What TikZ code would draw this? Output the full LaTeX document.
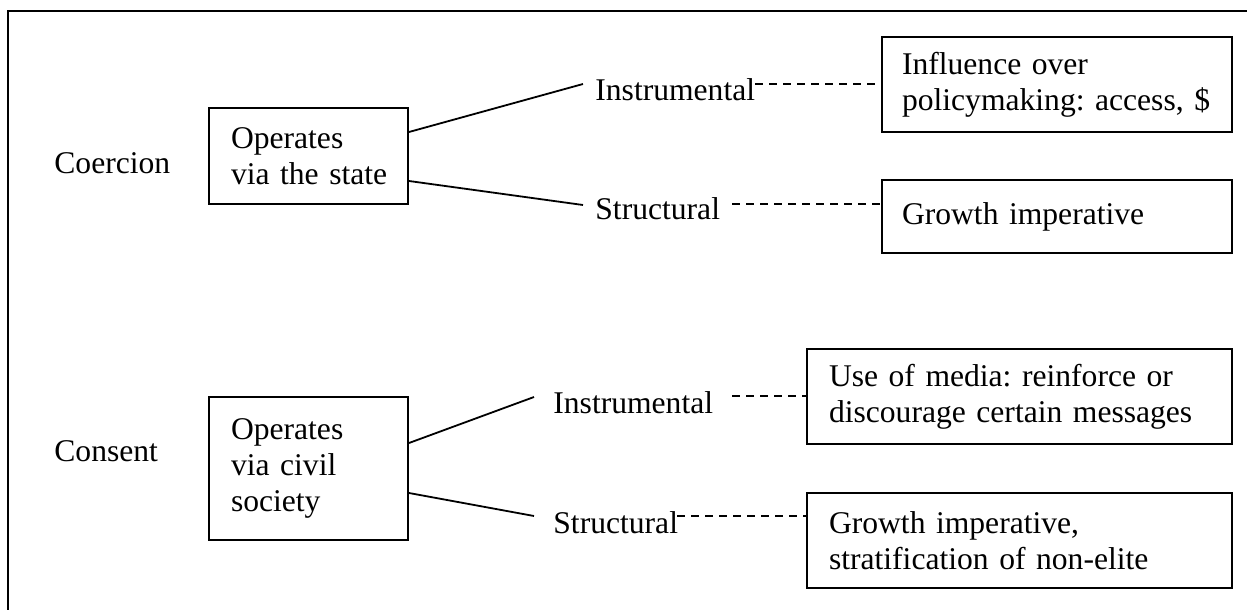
\documentclass[tikz,border=0pt]{standalone}
\usepackage{fontspec}
\setmainfont{Liberation Serif}
\begin{document}
\frenchspacing
\begin{tikzpicture}[x=0.5pt,y=-0.5pt,
  every node/.style={font=\fontsize{15.8}{18}\selectfont},
  box/.style={draw, line width=1pt, inner ysep=0pt, align=left},
  lbl/.style={inner sep=0pt, anchor=base west},
  conn/.style={line width=0.9pt},
  dashline/.style={line width=0.8pt, dash pattern=on 4pt off 3pt}]
\useasboundingbox (0,0) rectangle (1247,610);
% outer frame (cut at right and bottom)
\draw[line width=1pt] (8,610) -- (8,11) -- (1247,11);

% left labels
\node[lbl] (coer) at (54,173) {Coercion};
\node[lbl] (cons) at (54,461) {Consent};

% middle boxes
\node[box, text width=77.5pt, inner xsep=11pt, minimum height=48pt] (a) at (308.5,156) {\mbox{Operates}\\\mbox{via the state}};
\node[box, text width=77.5pt, inner xsep=11pt, minimum height=71.5pt] (b) at (308.5,468.5) {\mbox{Operates}\\\mbox{via civil}\\\mbox{society}};

% branch labels
\node[lbl] (i1) at (595,101) {Instrumental};
\node[lbl] (s1) at (595,219) {Structural};
\node[lbl] (i2) at (553,413) {Instrumental};
\node[lbl] (s2) at (553,533) {Structural};

% right boxes
\node[box, text width=155pt, inner xsep=10pt, minimum height=47.5pt] (c) at (1057,84.5) {\mbox{Influence over}\\\mbox{policymaking: access, \$}};
\node[box, text width=155pt, inner xsep=10pt, minimum height=36.5pt] (d) at (1057,216.5) {\mbox{Growth imperative}};
\node[box, text width=190.5pt, inner xsep=11pt, minimum height=47.5pt] (e) at (1019.5,396.5) {\mbox{Use of media: reinforce or}\\\mbox{discourage certain messages}};
\node[box, text width=190.5pt, inner xsep=11pt, minimum height=47.5pt] (f) at (1019.5,540.5) {\mbox{Growth imperative,}\\\mbox{stratification of non-elite}};

% connector end points
\coordinate (i1l) at (583,84);
\coordinate (s1l) at (583,205);
\coordinate (i2l) at (534,397);
\coordinate (s2l) at (534,516);
\coordinate (i1r) at (755,84);
\coordinate (s1r) at (732,204);
\coordinate (i2r) at (732,396);
\coordinate (s2r) at (677,516);

% solid connectors
\draw[conn] ([yshift=12pt]a.east) -- (i1l);
\draw[conn] ([yshift=-12.5pt]a.east) -- (s1l);
\draw[conn] ([yshift=12.75pt]b.east) -- (i2l);
\draw[conn] ([yshift=-12.25pt]b.east) -- (s2l);

% dashed connectors
\draw[dashline] (i1r) -- (i1r -| c.west);
\draw[dashline] (s1r) -- (s1r -| d.west);
\draw[dashline] (i2r) -- (i2r -| e.west);
\draw[dashline] (s2r) -- (s2r -| f.west);
\end{tikzpicture}
\end{document}
